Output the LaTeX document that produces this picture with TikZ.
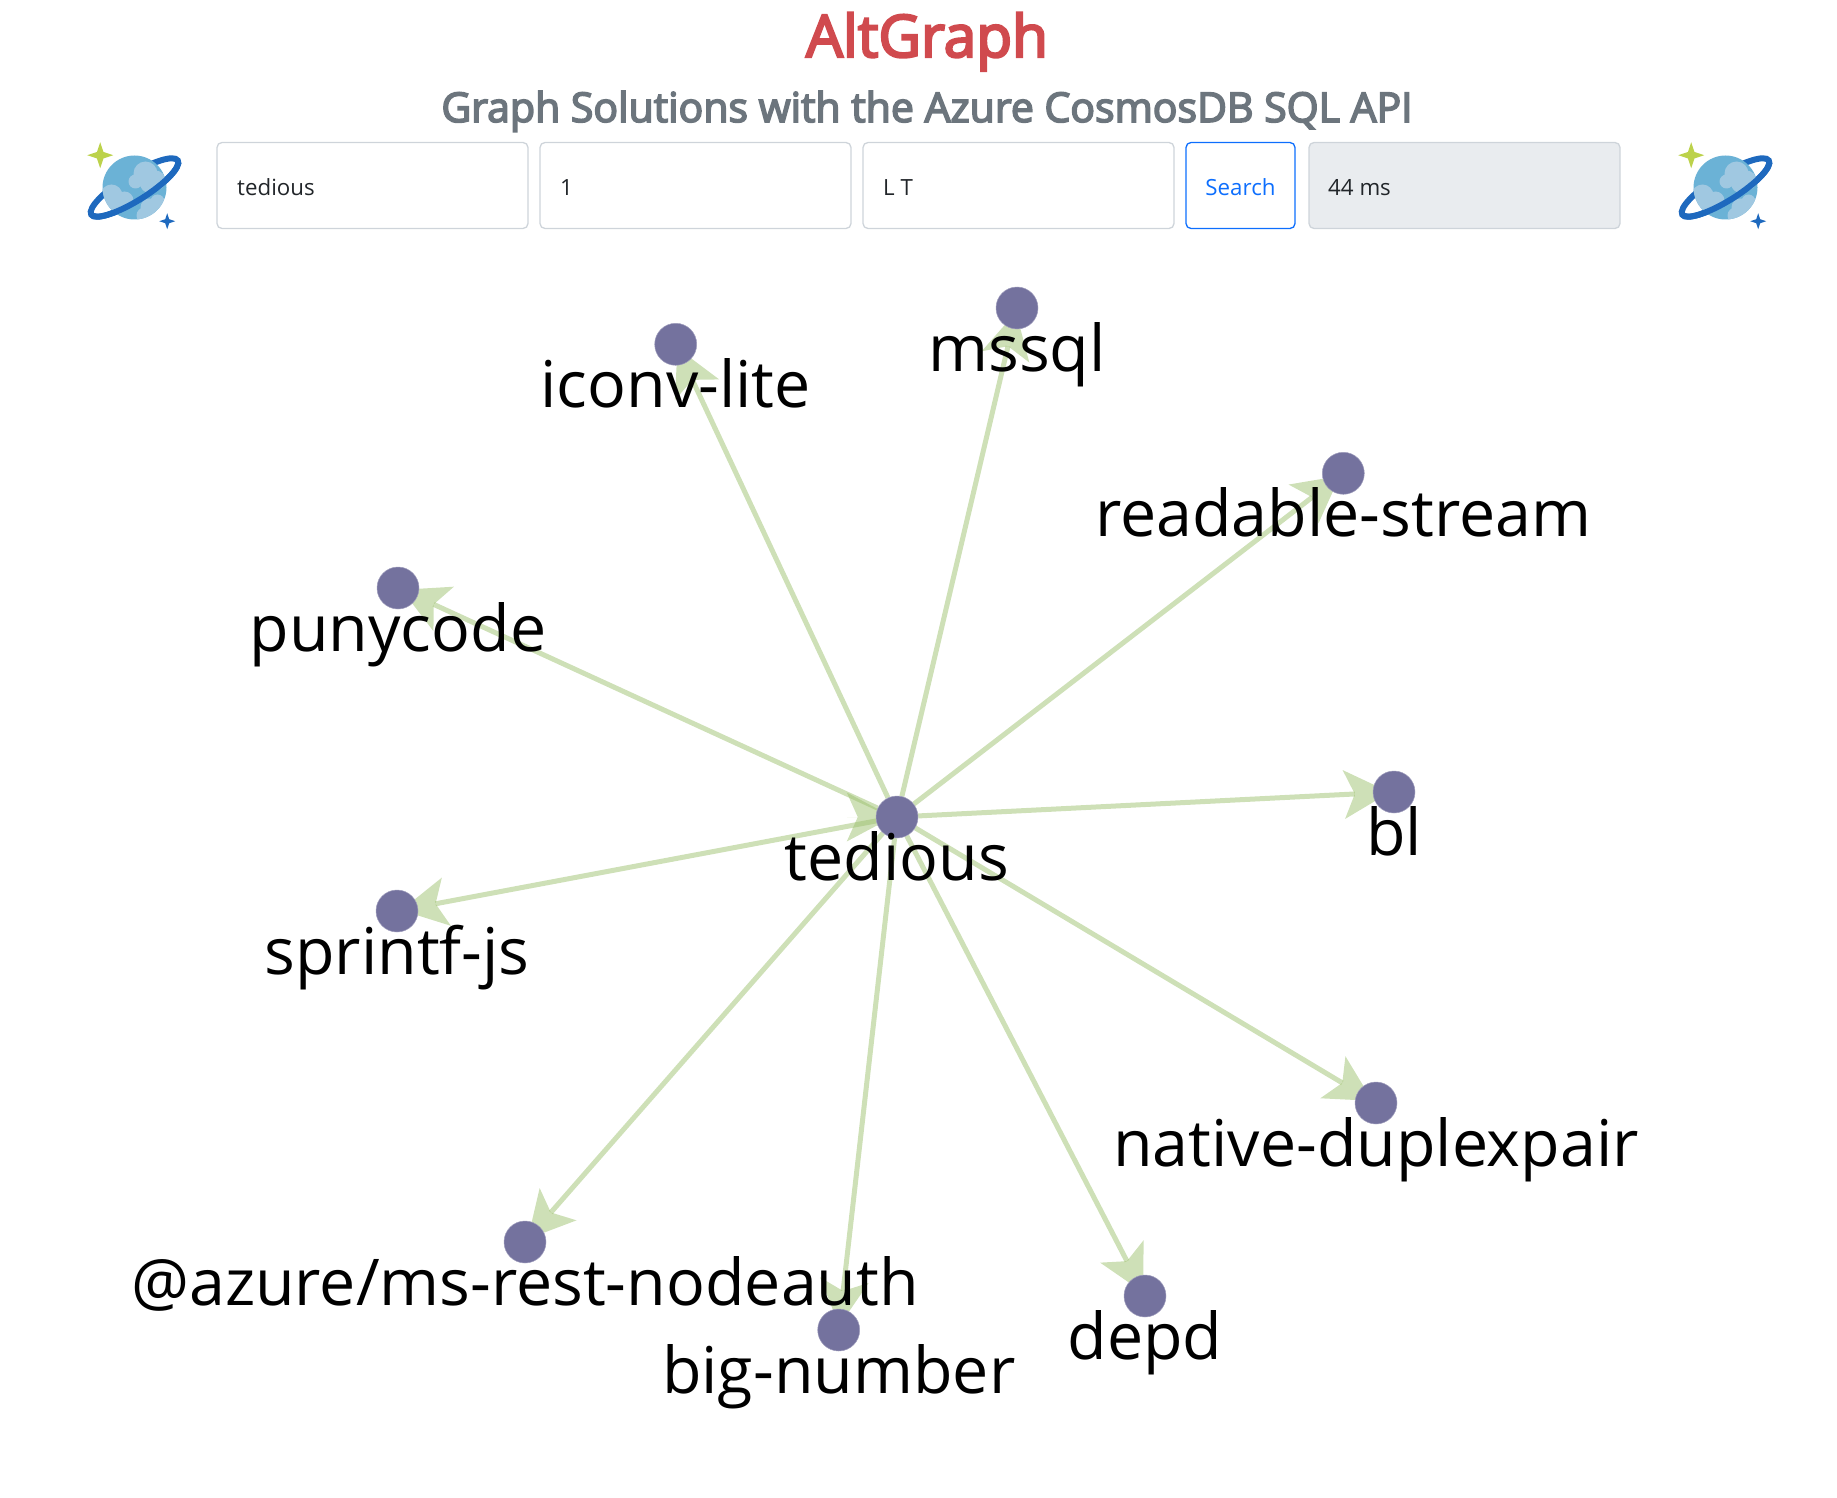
\documentclass[tikz,border=0pt]{standalone}
\usepackage{fontspec}
\setmainfont{Open Sans}
\newfontfamily\medfont{Open Sans}[FakeBold=4]
\usetikzlibrary{arrows.meta}
\pgfdeclarelayer{edges}
\pgfsetlayers{edges,main}
\definecolor{nodefill}{RGB}{116,114,158}
\definecolor{edgecol}{RGB}{157,193,111}
\definecolor{titlecol}{RGB}{208,74,78}
\definecolor{subcol}{RGB}{108,117,125}
\definecolor{boxline}{RGB}{206,212,218}
\definecolor{boxgray}{RGB}{233,236,239}
\definecolor{btn}{RGB}{13,110,253}
\definecolor{inktext}{RGB}{33,37,41}
\definecolor{planetc}{RGB}{107,178,214}
\definecolor{cloudc}{RGB}{160,200,225}
\definecolor{ringc}{RGB}{30,105,190}
\definecolor{greenstar}{RGB}{188,210,75}
\newcommand\sparkle[4]{\fill[#4,shift={(#1,#2)}] (#3,0)--({.25*#3},{.25*#3})--(0,#3)--({-.25*#3},{.25*#3})--(-#3,0)--({-.25*#3},{-.25*#3})--(0,-#3)--({.25*#3},{-.25*#3})--cycle;}
\tikzset{
  gnode/.style={circle,fill=nodefill,draw=nodefill!70,line width=.5pt,minimum size=42pt,inner sep=0pt},
  glabel/.style={font=\fontsize{64.5}{64.5}\selectfont,text=black,anchor=base,inner sep=0pt},
  gedge/.style={draw=edgecol,line width=5pt,opacity=.5,shorten >=-17pt,
    -{Stealth[length=46pt,width=49pt,inset=11pt,line width=0pt]}},
  selfedge/.style={gedge,line width=0.01pt},
  formbox/.style={draw=boxline,line width=1.3pt,rounded corners=5pt},
  formtext/.style={font=\fontsize{22.3}{22.3}\selectfont,anchor=base west,inner sep=0pt,text=inktext},
  planet/.pic={
    \draw[ringc,line width=6pt,rotate=32] (0,0) ellipse[x radius=51pt,y radius=13pt];
    \fill[planetc] (0,0) circle[radius=32pt];
    \begin{scope}
      \clip (0,0) circle[radius=32pt];
      \fill[cloudc] (11,-14) circle[radius=12pt] (21,-7) circle[radius=10pt] (1,-6) circle[radius=7pt] (14,-3) circle[radius=8pt];
      \fill[cloudc] (-23,8) circle[radius=11pt] (-10,13) circle[radius=9pt] (-19,17) circle[radius=10pt];
      \fill[cloudc] (15,20) circle[radius=9pt] (23,14) circle[radius=7pt] (10,28) circle[radius=8pt];
    \end{scope}
    \draw[ringc,line width=6pt,rotate=32] (-51pt,0pt) arc[start angle=180,end angle=360,x radius=51pt,y radius=13pt];
    \sparkle{-34.3}{-32.3}{13}{greenstar}
    \sparkle{32.7}{33.7}{8}{ringc}
  }
}
\begin{document}
\begin{tikzpicture}[x=1pt,y=-1pt]
\useasboundingbox (0,0) rectangle (1837,1498);
% header
\node[font=\medfont\fontsize{58.5}{58.5}\selectfont,text=titlecol,anchor=base,inner sep=0pt] (title) at (927,57) {AltGraph};
\node[font=\medfont\fontsize{41}{41}\selectfont,text=subcol,anchor=base,inner sep=0pt] (subtitle) at (927,122) {Graph Solutions with the Azure CosmosDB SQL API};
\pic at (134.5,187.5) {planet};
\pic at (1725.5,187.5) {planet};
\draw[formbox] (217,142.5) rectangle (528,228.5);
\draw[formbox] (540,142.5) rectangle (851,228.5);
\draw[formbox] (863,142.5) rectangle (1174,228.5);
\draw[formbox,draw=btn] (1186,142.5) rectangle (1295,228.5);
\draw[formbox,fill=boxgray] (1309,142.5) rectangle (1620,228.5);
\node[formtext] (q1) at (237,196) {tedious};
\node[formtext] (q2) at (560,196) {1};
\node[formtext] (q3) at (883,196) {L T};
\node[formtext,text=btn,anchor=base] (q4) at (1240.5,196) {Search};
\node[formtext] (q5) at (1328,196) {44 ms};
% graph nodes
\node[gnode] (tedious) at (897,817) {};
\node[gnode] (mssql) at (1017,308) {};
\node[gnode] (iconv) at (675.7,344.3) {};
\node[gnode] (readable) at (1343.3,473.3) {};
\node[gnode] (punycode) at (398,588) {};
\node[gnode] (bl) at (1394,792) {};
\node[gnode] (sprintf) at (397,911) {};
\node[gnode] (native) at (1376,1103) {};
\node[gnode] (depd) at (1145,1296) {};
\node[gnode] (bignum) at (838.7,1330) {};
\node[gnode] (azure) at (525,1242) {};
\coordinate (selfstart) at (847,817);
% edges under the nodes
\begin{pgfonlayer}{edges}
\foreach \t in {mssql,iconv,readable,punycode,bl,sprintf,native,depd,bignum,azure}
  \draw[gedge] (tedious) -- (\t);
\draw[selfedge] (selfstart) -- (tedious);
\end{pgfonlayer}
% labels
\node[glabel] (ltedious) at ([yshift=-63pt]tedious.center) {tedious};
\node[glabel] (lmssql) at ([yshift=-63pt]mssql.center) {mssql};
\node[glabel] (liconv) at ([yshift=-63pt]iconv.center) {iconv-lite};
\node[glabel] (lreadable) at ([yshift=-63pt]readable.center) {readable-stream};
\node[glabel] (lpunycode) at ([yshift=-63pt]punycode.center) {punycode};
\node[glabel] (lbl) at ([yshift=-63pt]bl.center) {bl};
\node[glabel] (lsprintf) at ([yshift=-63pt]sprintf.center) {sprintf-js};
\node[glabel] (lnative) at ([yshift=-63pt]native.center) {native-duplexpair};
\node[glabel] (ldepd) at ([yshift=-63pt]depd.center) {depd};
\node[glabel] (lbignum) at ([yshift=-63pt]bignum.center) {big-number};
\node[glabel] (lazure) at ([yshift=-63pt]azure.center) {@azure/ms-rest-nodeauth};
\end{tikzpicture}
\end{document}
